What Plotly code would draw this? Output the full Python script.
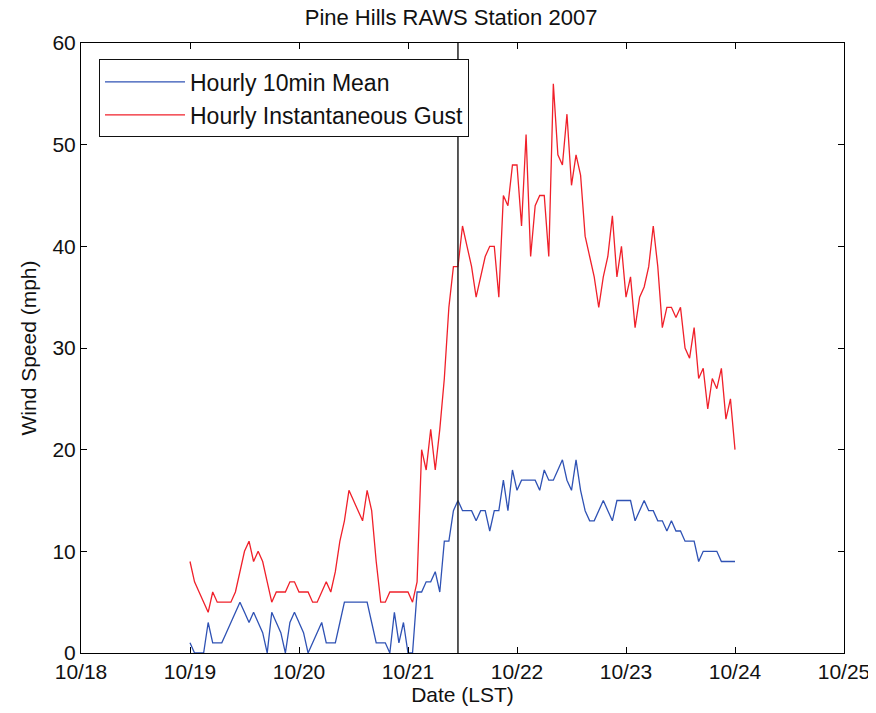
import plotly.graph_objects as go
import pandas as pd

# Hourly data 2007-10-19 00:00 .. 2007-10-24 00:00 (121 points)
gust_19 = [9, 7, 6, 5, 4, 6, 5, 5, 5, 5, 6, 8, 10, 11, 9, 10, 9, 7, 5, 6, 6, 6, 7, 7]
gust_20 = [6, 6, 6, 5, 5, 6, 7, 6, 8, 11, 13, 16, 15, 14, 13, 16, 14, 9, 5, 5, 6, 6, 6, 6]
gust_21 = [6, 5, 7, 20, 18, 22, 18, 22, 27, 34, 38, 38, 42, 40, 38, 35, 37, 39, 40, 40, 35, 45, 44, 48]
gust_22 = [48, 42, 51, 39, 44, 45, 45, 39, 56, 49, 48, 53, 46, 49, 47, 41, 39, 37, 34, 37, 39, 43, 37, 40]
gust_23 = [35, 37, 32, 35, 36, 38, 42, 38, 32, 34, 34, 33, 34, 30, 29, 32, 27, 28, 24, 27, 26, 28, 23, 25]
gust_24 = [20]

mean_19 = [1, 0, 0, 0, 3, 1, 1, 1, 2, 3, 4, 5, 4, 3, 4, 3, 2, 0, 4, 3, 2, 0, 3, 4]
mean_20 = [3, 2, 0, 1, 2, 3, 1, 1, 1, 3, 5, 5, 5, 5, 5, 5, 3, 1, 1, 1, 0, 4, 1, 3]
mean_21 = [0, 0, 6, 6, 7, 7, 8, 6, 11, 11, 14, 15, 14, 14, 14, 13, 14, 14, 12, 14, 14, 17, 14, 18]
mean_22 = [16, 17, 17, 17, 17, 16, 18, 17, 17, 18, 19, 17, 16, 19, 16, 14, 13, 13, 14, 15, 14, 13, 15, 15]
mean_23 = [15, 15, 13, 14, 15, 14, 14, 13, 13, 12, 13, 12, 12, 11, 11, 11, 9, 10, 10, 10, 10, 9, 9, 9]
mean_24 = [9]

gust = gust_19 + gust_20 + gust_21 + gust_22 + gust_23 + gust_24
mean = mean_19 + mean_20 + mean_21 + mean_22 + mean_23 + mean_24
times = pd.date_range("2007-10-19 00:00", periods=len(gust), freq="h")

tick_dates = ["2007-10-18", "2007-10-19", "2007-10-20", "2007-10-21",
              "2007-10-22", "2007-10-23", "2007-10-24", "2007-10-25"]
tick_labels = ["10/18", "10/19", "10/20", "10/21", "10/22", "10/23", "10/24", "10/25"]
y_ticks = [0, 10, 20, 30, 40, 50, 60]
marker_time = "2007-10-21 11:00"

font_family = "Liberation Sans, Arial, sans-serif"
FS = 21

fig = go.Figure()
fig.add_trace(go.Scatter(x=times, y=mean, mode="lines", name="Hourly 10min Mean",
                         line=dict(color="#2f52b4", width=1.3)))
fig.add_trace(go.Scatter(x=times, y=gust, mode="lines", name="Hourly Instantaneous Gust",
                         line=dict(color="#f0202a", width=1.3)))

fig.add_shape(type="line", xref="x", yref="y", x0=marker_time, x1=marker_time,
              y0=0, y1=60, line=dict(color="#222222", width=1.5))

fig.update_layout(
    width=868, height=705,
    margin=dict(l=73, r=32, t=35, b=60, autoexpand=False),
    paper_bgcolor="white", plot_bgcolor="white",
    font=dict(family=font_family, size=FS, color="#111111"),
    title=dict(text="Pine Hills RAWS Station 2007", x=0.485, xref="paper", xanchor="center",
               y=1 - 9 / 705, yref="container", yanchor="middle",
               font=dict(size=FS + 1, family=font_family, color="#111111")),
    showlegend=True,
    legend=dict(x=0.0236, y=0.973, xanchor="left", yanchor="top",
                bgcolor="white", bordercolor="#111111", borderwidth=1,
                font=dict(size=FS + 2, family=font_family, color="#111111"),
                itemwidth=80, tracegroupgap=0),
)
fig.update_xaxes(
    type="date", range=[tick_dates[0], tick_dates[-1]],
    tickmode="array", tickvals=tick_dates, ticktext=tick_labels,
    ticks="inside", ticklen=6, tickcolor="black", tickwidth=1,
    showline=True, linecolor="black", linewidth=1, mirror="ticks",
    showgrid=False, zeroline=False,
    title=dict(text="Date (LST)", standoff=3, font=dict(size=FS)),
    tickfont=dict(size=FS),
)
fig.update_yaxes(
    range=[0, 60], tickmode="array", tickvals=y_ticks,
    ticks="inside", ticklen=6, tickcolor="black", tickwidth=1,
    showline=True, linecolor="black", linewidth=1, mirror="ticks",
    showgrid=False, zeroline=False,
    title=dict(text="Wind Speed (mph)", standoff=10, font=dict(size=FS)),
    tickfont=dict(size=FS),
)

fig.write_html("out.html")
